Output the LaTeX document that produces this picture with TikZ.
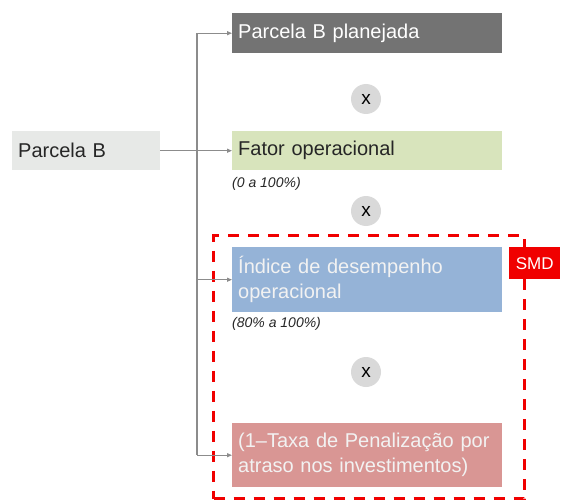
\documentclass[tikz,border=0pt]{standalone}
\usepackage{fontspec}
\setmainfont{Liberation Sans}
\usetikzlibrary{arrows.meta}

\definecolor{basegray}{RGB}{231,233,231}
\definecolor{plangray}{RGB}{115,115,115}
\definecolor{fatorgreen}{RGB}{216,228,188}
\definecolor{idxblue}{RGB}{149,179,215}
\definecolor{penalred}{RGB}{217,150,148}
\definecolor{circgray}{RGB}{217,217,217}
\definecolor{linkgray}{RGB}{140,140,140}
\definecolor{smdred}{RGB}{240,0,0}

\begin{document}
\begin{tikzpicture}[x=1pt, y=-1pt,
        factor/.style={rectangle, anchor=north west, minimum width=270pt, text width=258pt,
            inner xsep=6pt, align=left, font=\fontsize{20}{25}\selectfont},
        times/.style={circle, fill=circgray, minimum size=30pt, inner sep=0pt,
            font=\fontsize{19}{19}\selectfont},
        rangelabel/.style={anchor=north west, inner sep=0pt, font=\fontsize{14}{14}\selectfont\itshape, text=black!85},
        arrow/.style={-{Triangle[length=5pt,width=4pt]}, draw=linkgray, line width=1.1pt},
        trunk/.style={draw=linkgray, line width=1.1pt}
    ]
        \useasboundingbox (0,0) rectangle (562,500);

        % Parcela B
        \node[factor, fill=basegray, minimum width=148pt, text width=136pt, minimum height=39pt,
            text=black!85] (base) at (12,131) {Parcela B};

        % Factors
        \node[factor, fill=plangray, minimum height=40pt, text=white] (planned) at (232,13) {Parcela B planejada};
        \node[factor, fill=fatorgreen, minimum height=39pt, text=black!85] (fator) at (232,131) {Fator operacional};
        \node[factor, fill=idxblue, minimum height=65pt, text=white!95!black] (indice) at (232,247)
            {Índice de desempenho\\operacional};
        \node[factor, fill=penalred, minimum height=64pt, text=white!95!black] (penal) at (232,423)
            {(1–Taxa de Penalização por\\atraso nos investimentos)};

        % Ranges
        \node[rangelabel] (fatorrange) at (232,177) {(0 a 100\%)};
        \node[rangelabel] (indicerange) at (232,317) {(80\% a 100\%)};

        % Multiplications
        \node[times] (x1) at (366,99) {x};
        \node[times] (x2) at (366,211) {x};
        \node[times] (x3) at (366,372) {x};

        % SMD zone
        \node[draw=smdred, line width=3pt, dash pattern=on 11pt off 9pt, anchor=north west,
            minimum width=311pt, minimum height=263pt, inner sep=0pt] (zone) at (212,234) {};
        \node[fill=smdred, text=white, anchor=north west, minimum width=51pt, minimum height=32pt,
            inner sep=0pt, font=\fontsize{17}{17}\selectfont] (smd) at (509,247) {SMD};

        % Arrows
        \coordinate (spine) at (197,0);
        \draw[trunk] (spine |- planned.west) -- (spine |- penal.west);
        \draw[arrow] (spine |- planned.west) -- (planned.west);
        \draw[arrow] (base.east) -- (fator.west);
        \draw[arrow] (spine |- indice.west) -- (indice.west);
        \draw[arrow] (spine |- penal.west) -- (penal.west);
    \end{tikzpicture}
\end{document}
